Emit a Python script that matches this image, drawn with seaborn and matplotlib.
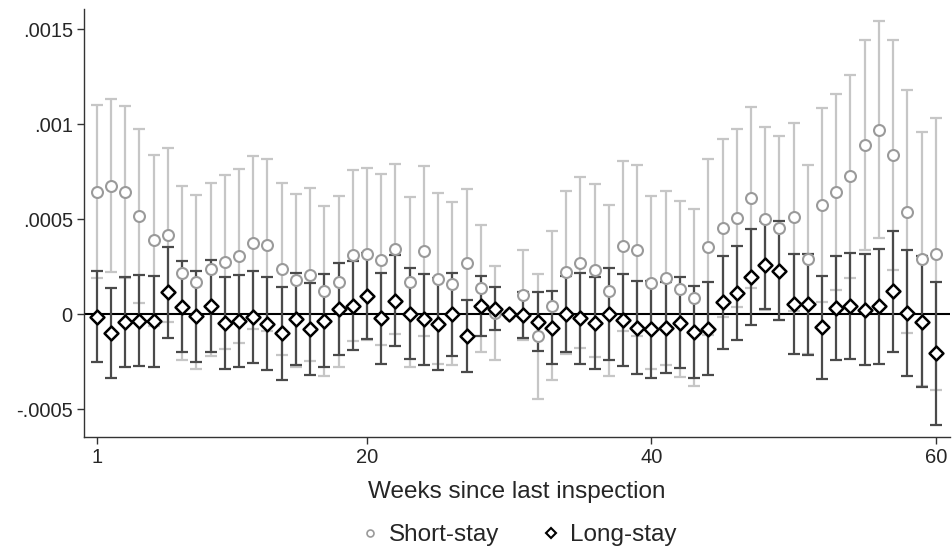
import numpy as np
import matplotlib
matplotlib.use("Agg")
import matplotlib.pyplot as plt
from matplotlib.lines import Line2D
import seaborn as sns

# estimates and 95% CI half-widths, in units of 1e-4
weeks = np.arange(1, 61)
short_est = [6.44, 6.76, 6.42, 5.17, 3.89, 4.17, 2.18, 1.72, 2.36, 2.75,
             3.06, 3.77, 3.64, 2.39, 1.80, 2.09, 1.21, 1.72, 3.10, 3.19,
             2.87, 3.43, 1.72, 3.33, 1.87, 1.62, 2.69, 1.37, 0.05, 0.00,
             0.99, -1.16, 0.44, 2.20, 2.71, 2.31, 1.25, 3.59, 3.36, 1.67,
             1.90, 1.34, 0.88, 3.56, 4.56, 5.05, 6.14, 5.02, 4.54, 5.12,
             2.89, 5.74, 6.44, 7.27, 8.91, 9.71, 8.39, 5.40, 2.92, 3.17]
short_ci = [4.55, 4.55, 4.53, 4.56, 4.52, 4.56, 4.58, 4.58, 4.57, 4.57,
            4.58, 4.56, 4.53, 4.54, 4.55, 4.54, 4.47, 4.49, 4.49, 4.52,
            4.49, 4.47, 4.47, 4.45, 4.49, 4.31, 3.93, 3.35, 2.47, 0.00,
            2.37, 3.29, 3.92, 4.28, 4.49, 4.54, 4.52, 4.49, 4.49, 4.56,
            4.59, 4.63, 4.65, 4.64, 4.68, 4.68, 4.75, 4.82, 4.86, 4.95,
            4.99, 5.10, 5.18, 5.35, 5.54, 5.72, 6.06, 6.39, 6.67, 7.16]
long_est = [-0.12, -0.99, -0.42, -0.33, -0.37, 1.16, 0.39, -0.11, 0.46, -0.44,
            -0.37, -0.14, -0.49, -0.99, -0.26, -0.77, -0.33, 0.26, 0.46, 0.95,
            -0.21, 0.72, 0.04, -0.26, -0.53, 0.00, -1.16, 0.46, 0.30, 0.00,
            -0.05, -0.39, -0.70, 0.04, -0.21, -0.48, 0.00, -0.28, -0.70, -0.80,
            -0.70, -0.44, -0.93, -0.77, 0.63, 1.13, 1.95, 2.60, 2.29, 0.53,
            0.53, -0.69, 0.33, 0.42, 0.25, 0.42, 1.20, 0.09, -0.40, -2.06]
long_ci = [2.40, 2.39, 2.38, 2.39, 2.40, 2.40, 2.40, 2.40, 2.42, 2.42,
           2.42, 2.42, 2.44, 2.45, 2.42, 2.42, 2.43, 2.42, 2.35, 2.26,
           2.40, 2.39, 2.41, 2.40, 2.42, 2.17, 1.90, 1.58, 1.13, 0.00,
           1.20, 1.56, 1.91, 2.00, 2.40, 2.42, 2.41, 2.42, 2.44, 2.57,
           2.40, 2.41, 2.43, 2.45, 2.46, 2.49, 2.53, 2.30, 2.60, 2.64,
           2.65, 2.71, 2.73, 2.80, 2.90, 3.02, 3.19, 3.32, 3.45, 3.77]
unit = 1e-4

short_y = np.array(short_est) * unit
long_y = np.array(long_est) * unit

sns.set_theme(style="ticks")
plt.rcParams["font.family"] = ["Liberation Sans", "DejaVu Sans"]

fig = plt.figure(figsize=(9.53, 5.55), dpi=100)
ax = fig.add_axes([0.0881, 0.2126, 0.9088, 0.7712])

ax.axhline(0, color="black", lw=1.5, zorder=2)
ax.errorbar(weeks, short_y, yerr=np.array(short_ci) * unit, fmt="none",
            ecolor="#c6c6c6", elinewidth=1.6, capsize=4, capthick=1.6, zorder=1)
ax.errorbar(weeks, long_y, yerr=np.array(long_ci) * unit, fmt="none",
            ecolor="#4a4a4a", elinewidth=1.6, capsize=4, capthick=1.6, zorder=3)
sns.scatterplot(x=weeks, y=short_y, marker="o", s=62, color="white",
                edgecolor="#9a9a9a", linewidth=1.5, zorder=4, ax=ax)
sns.scatterplot(x=weeks, y=long_y, marker="D", s=50, color="white",
                edgecolor="black", linewidth=1.8, zorder=5, ax=ax)

ax.set_xlim(0.1, 61.0)
ax.set_ylim(-0.000646, 0.001607)
ax.set_xticks([1, 20, 40, 60])
ax.set_yticks([-0.0005, 0, 0.0005, 0.001, 0.0015])
ax.set_yticklabels(["-.0005", "0", ".0005", ".001", ".0015"])
ax.tick_params(axis="both", labelsize=14.5, length=5, width=1, color="#333333", pad=3)
for side in ["top", "right"]:
    ax.spines[side].set_visible(False)
for side in ["left", "bottom"]:
    ax.spines[side].set_color("#333333")
    ax.spines[side].set_linewidth(1)
ax.set_xlabel("Weeks since last inspection", fontsize=17.5, labelpad=10)
ax.set_ylabel("")

handles = [
    Line2D([], [], ls="none", marker="o", ms=5, mfc="white", mec="#9a9a9a", mew=1.2),
    Line2D([], [], ls="none", marker="D", ms=5, mfc="white", mec="black", mew=1.5),
]
fig.legend(handles, ["Short-stay", "Long-stay"], loc="center",
           bbox_to_anchor=(517 / 953, 1 - 535 / 555), ncol=2, frameon=False,
           fontsize=17.5, handletextpad=0.3, columnspacing=1.6, handlelength=1.0)

fig.savefig("out.png", dpi=100)
